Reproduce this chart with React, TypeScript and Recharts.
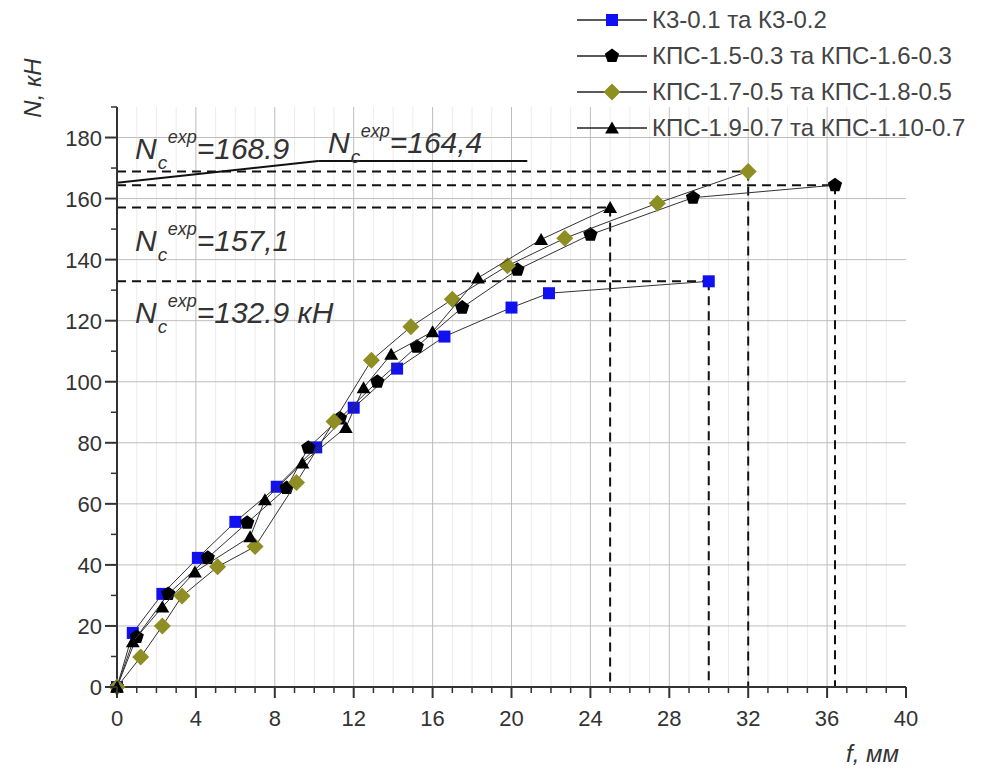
import React from "react";
import { ScatterChart, Scatter, XAxis, YAxis, CartesianGrid, ReferenceLine } from "recharts";

// f, mm / N, kN
const k3Series: Array<[number, number]> = [
  [0, 0], [0.8, 17.7], [2.3, 30.5], [4.1, 42.3], [6.0, 54.1], [8.1, 65.6], [10.1, 78.5],
  [12.0, 91.5], [14.2, 104.3], [16.6, 114.8], [20.0, 124.3], [21.9, 129], [30.0, 132.9],
];
const kps15Series: Array<[number, number]> = [
  [0, 0], [1.0, 16.4], [2.6, 30.5], [4.6, 42.3], [6.6, 53.8], [8.6, 65.2], [9.7, 78.4],
  [11.3, 88], [13.2, 100], [15.2, 111.5], [17.5, 124.3], [20.3, 136.7], [24.0, 148.2],
  [29.2, 160.3], [36.4, 164.4],
];
const kps17Series: Array<[number, number]> = [
  [0, 0], [1.2, 9.8], [2.3, 20], [3.3, 29.8], [5.1, 39.4], [7.0, 46], [9.1, 67], [11.0, 87],
  [12.9, 107], [14.9, 118], [17.0, 127], [19.8, 138], [22.7, 147], [27.4, 158.5], [32.0, 168.9],
];
const kps19Series: Array<[number, number]> = [
  [0, 0], [0.8, 14.8], [2.3, 26.2], [3.95, 37.7], [6.75, 49.2], [7.5, 61.3], [9.4, 73.4],
  [11.6, 85], [12.5, 98], [13.9, 109], [16.0, 116.4], [18.3, 134], [21.5, 146.6], [25.0, 157.1],
];

const seriesNames = [
  "К3-0.1 та К3-0.2",
  "КПС-1.5-0.3 та КПС-1.6-0.3",
  "КПС-1.7-0.5 та КПС-1.8-0.5",
  "КПС-1.9-0.7 та КПС-1.10-0.7",
];

// ultimate loads and the deflections where they were reached
const ultimateLoads = [168.9, 164.4, 157.1, 132.9];
const ultimateDefl = [32, 36.4, 25, 30];
const ultimateLabels = ["=168.9", "=164,4", "=157,1", "=132.9 кН"];
const leaderLine: Array<[number, number]> = [[0, 165.2], [10.2, 172.3], [20.8, 172.3]];

const xAllTicks = Array.from({ length: 41 }, (_, i) => i);
const yAllTicks = Array.from({ length: 20 }, (_, i) => i * 10);
const xMinorGrid = xAllTicks.filter((v) => v % 4 !== 0);
const xMajorGrid = [4, 8, 12, 16, 20, 24, 28, 32, 36];
const yMajorGrid = [20, 40, 60, 80, 100, 120, 140, 160, 180];

const FONT = '"Liberation Sans", Arial, sans-serif';
const BLUE = "#1010f0";
const OLIVE = "#8e8e22";
const INK = "#333";

const toPts = (arr: Array<[number, number]>) => arr.map(([x, y]) => ({ x, y }));

const polygon = (cx: number, cy: number, r: number, n: number, rot: number) =>
  Array.from({ length: n }, (_, i) => {
    const a = rot + (i * 2 * Math.PI) / n;
    return `${cx + r * Math.cos(a)},${cy + r * Math.sin(a)}`;
  }).join(" ");

const Square = (p: any) => <rect x={p.cx - 6} y={p.cy - 6} width={12} height={12} fill={BLUE} />;
const Pentagon = (p: any) => <polygon points={polygon(p.cx, p.cy, 7.5, 5, -Math.PI / 2)} fill="#000" />;
const Diamond = (p: any) => <polygon points={polygon(p.cx, p.cy, 8.5, 4, -Math.PI / 2)} fill={OLIVE} />;
const Triangle = (p: any) => <polygon points={polygon(p.cx, p.cy + 1.5, 8, 3, -Math.PI / 2)} fill="#000" />;
const markers = [Square, Pentagon, Diamond, Triangle];

const XTick = (props: any) => {
  const { x, y, payload } = props;
  const major = payload.value % 4 === 0;
  return (
    <g>
      <line x1={x} y1={y} x2={x} y2={y + (major ? 11 : 6)} stroke={INK} strokeWidth={major ? 2 : 1.5} />
      {major && (
        <text x={x} y={y + 39} textAnchor="middle" fontSize={22} fontFamily={FONT} fill={INK}>
          {payload.value}
        </text>
      )}
    </g>
  );
};

const YTick = (props: any) => {
  const { x, y, payload } = props;
  const major = payload.value % 20 === 0;
  return (
    <g>
      <line x1={x} y1={y} x2={x - (major ? 12 : 6)} y2={y} stroke={INK} strokeWidth={major ? 2 : 1.5} />
      {major && (
        <text x={x - 15} y={y + 8} textAnchor="end" fontSize={22} fontFamily={FONT} fill={INK}>
          {payload.value}
        </text>
      )}
    </g>
  );
};

const NcLabel = ({ left, top, value }: { left: number; top: number; value: string }) => (
  <div style={{ position: "absolute", left, top, fontFamily: FONT, fontStyle: "italic", fontSize: 30, lineHeight: 1, color: INK, whiteSpace: "nowrap" }}>
    N
    <span style={{ display: "inline-block", position: "relative", width: 40, height: 30, verticalAlign: "top" }}>
      <span style={{ position: "absolute", left: 11, top: -6, fontSize: 18 }}>exp</span>
      <span style={{ position: "absolute", left: 1, top: 19, fontSize: 19 }}>c</span>
    </span>
    {value}
  </div>
);

export default function App() {
  const dash = { stroke: "#111", strokeWidth: 2, strokeDasharray: "9 6" };
  return (
    <div style={{ position: "absolute", left: 0, top: 0, width: 991, height: 769, background: "#fff" }}>
      <ScatterChart width={991} height={769} margin={{ top: 107, right: 85, left: 17, bottom: 42 }}>
        <CartesianGrid verticalValues={xMinorGrid} horizontal={false} stroke="#ececec" />
        <CartesianGrid verticalValues={xMajorGrid} horizontalValues={yMajorGrid} stroke="#bdbdbd" />
        <XAxis type="number" dataKey="x" domain={[0, 40]} ticks={xAllTicks} interval={0} tick={<XTick />}
          tickLine={false} tickSize={0} tickMargin={0} height={40} axisLine={{ stroke: INK, strokeWidth: 2 }} />
        <YAxis type="number" dataKey="y" domain={[0, 190]} ticks={yAllTicks} interval={0} tick={<YTick />}
          tickLine={false} tickSize={0} tickMargin={0} width={100} axisLine={{ stroke: INK, strokeWidth: 2 }} />
        {ultimateLoads.map((n, i) => (
          <ReferenceLine key={`h${i}`} segment={[{ x: 0, y: n }, { x: ultimateDefl[i], y: n }]} {...dash} />
        ))}
        {ultimateLoads.map((n, i) => (
          <ReferenceLine key={`v${i}`} segment={[{ x: ultimateDefl[i], y: n }, { x: ultimateDefl[i], y: 0 }]} {...dash} />
        ))}
        {leaderLine.slice(1).map((p, i) => (
          <ReferenceLine key={`l${i}`} segment={[{ x: leaderLine[i][0], y: leaderLine[i][1] }, { x: p[0], y: p[1] }]}
            stroke="#111" strokeWidth={2} />
        ))}
        {[k3Series, kps15Series, kps17Series, kps19Series].map((s, i) => (
          <Scatter key={i} name={seriesNames[i]} data={toPts(s)} shape={markers[i]}
            line={{ stroke: "#333", strokeWidth: 1 }} isAnimationActive={false} />
        ))}
      </ScatterChart>

      <NcLabel left={135} top={134} value={ultimateLabels[0]} />
      <NcLabel left={328} top={128} value={ultimateLabels[1]} />
      <NcLabel left={135} top={226} value={ultimateLabels[2]} />
      <NcLabel left={135} top={298} value={ultimateLabels[3]} />

      <div style={{ position: "absolute", left: 33, top: 88, transform: "translate(-50%, -50%) rotate(-90deg)", fontFamily: FONT, fontStyle: "italic", fontSize: 24, color: INK, whiteSpace: "nowrap" }}>
        N, кН
      </div>
      <div style={{ position: "absolute", left: 846, top: 740, fontFamily: FONT, fontStyle: "italic", fontSize: 24, color: INK, whiteSpace: "nowrap" }}>
        f, мм
      </div>

      <div style={{ position: "absolute", left: 572, top: 2 }}>
        {seriesNames.map((name, i) => {
          const M = markers[i];
          return (
            <div key={name} style={{ display: "flex", alignItems: "center", height: 36 }}>
              <svg width={80} height={30}>
                <line x1={5} y1={15} x2={75} y2={15} stroke="#222" strokeWidth={1.3} />
                <M cx={40} cy={15} />
              </svg>
              <span style={{ fontFamily: FONT, fontSize: 24, color: "#444", whiteSpace: "nowrap" }}>{name}</span>
            </div>
          );
        })}
      </div>
    </div>
  );
}
